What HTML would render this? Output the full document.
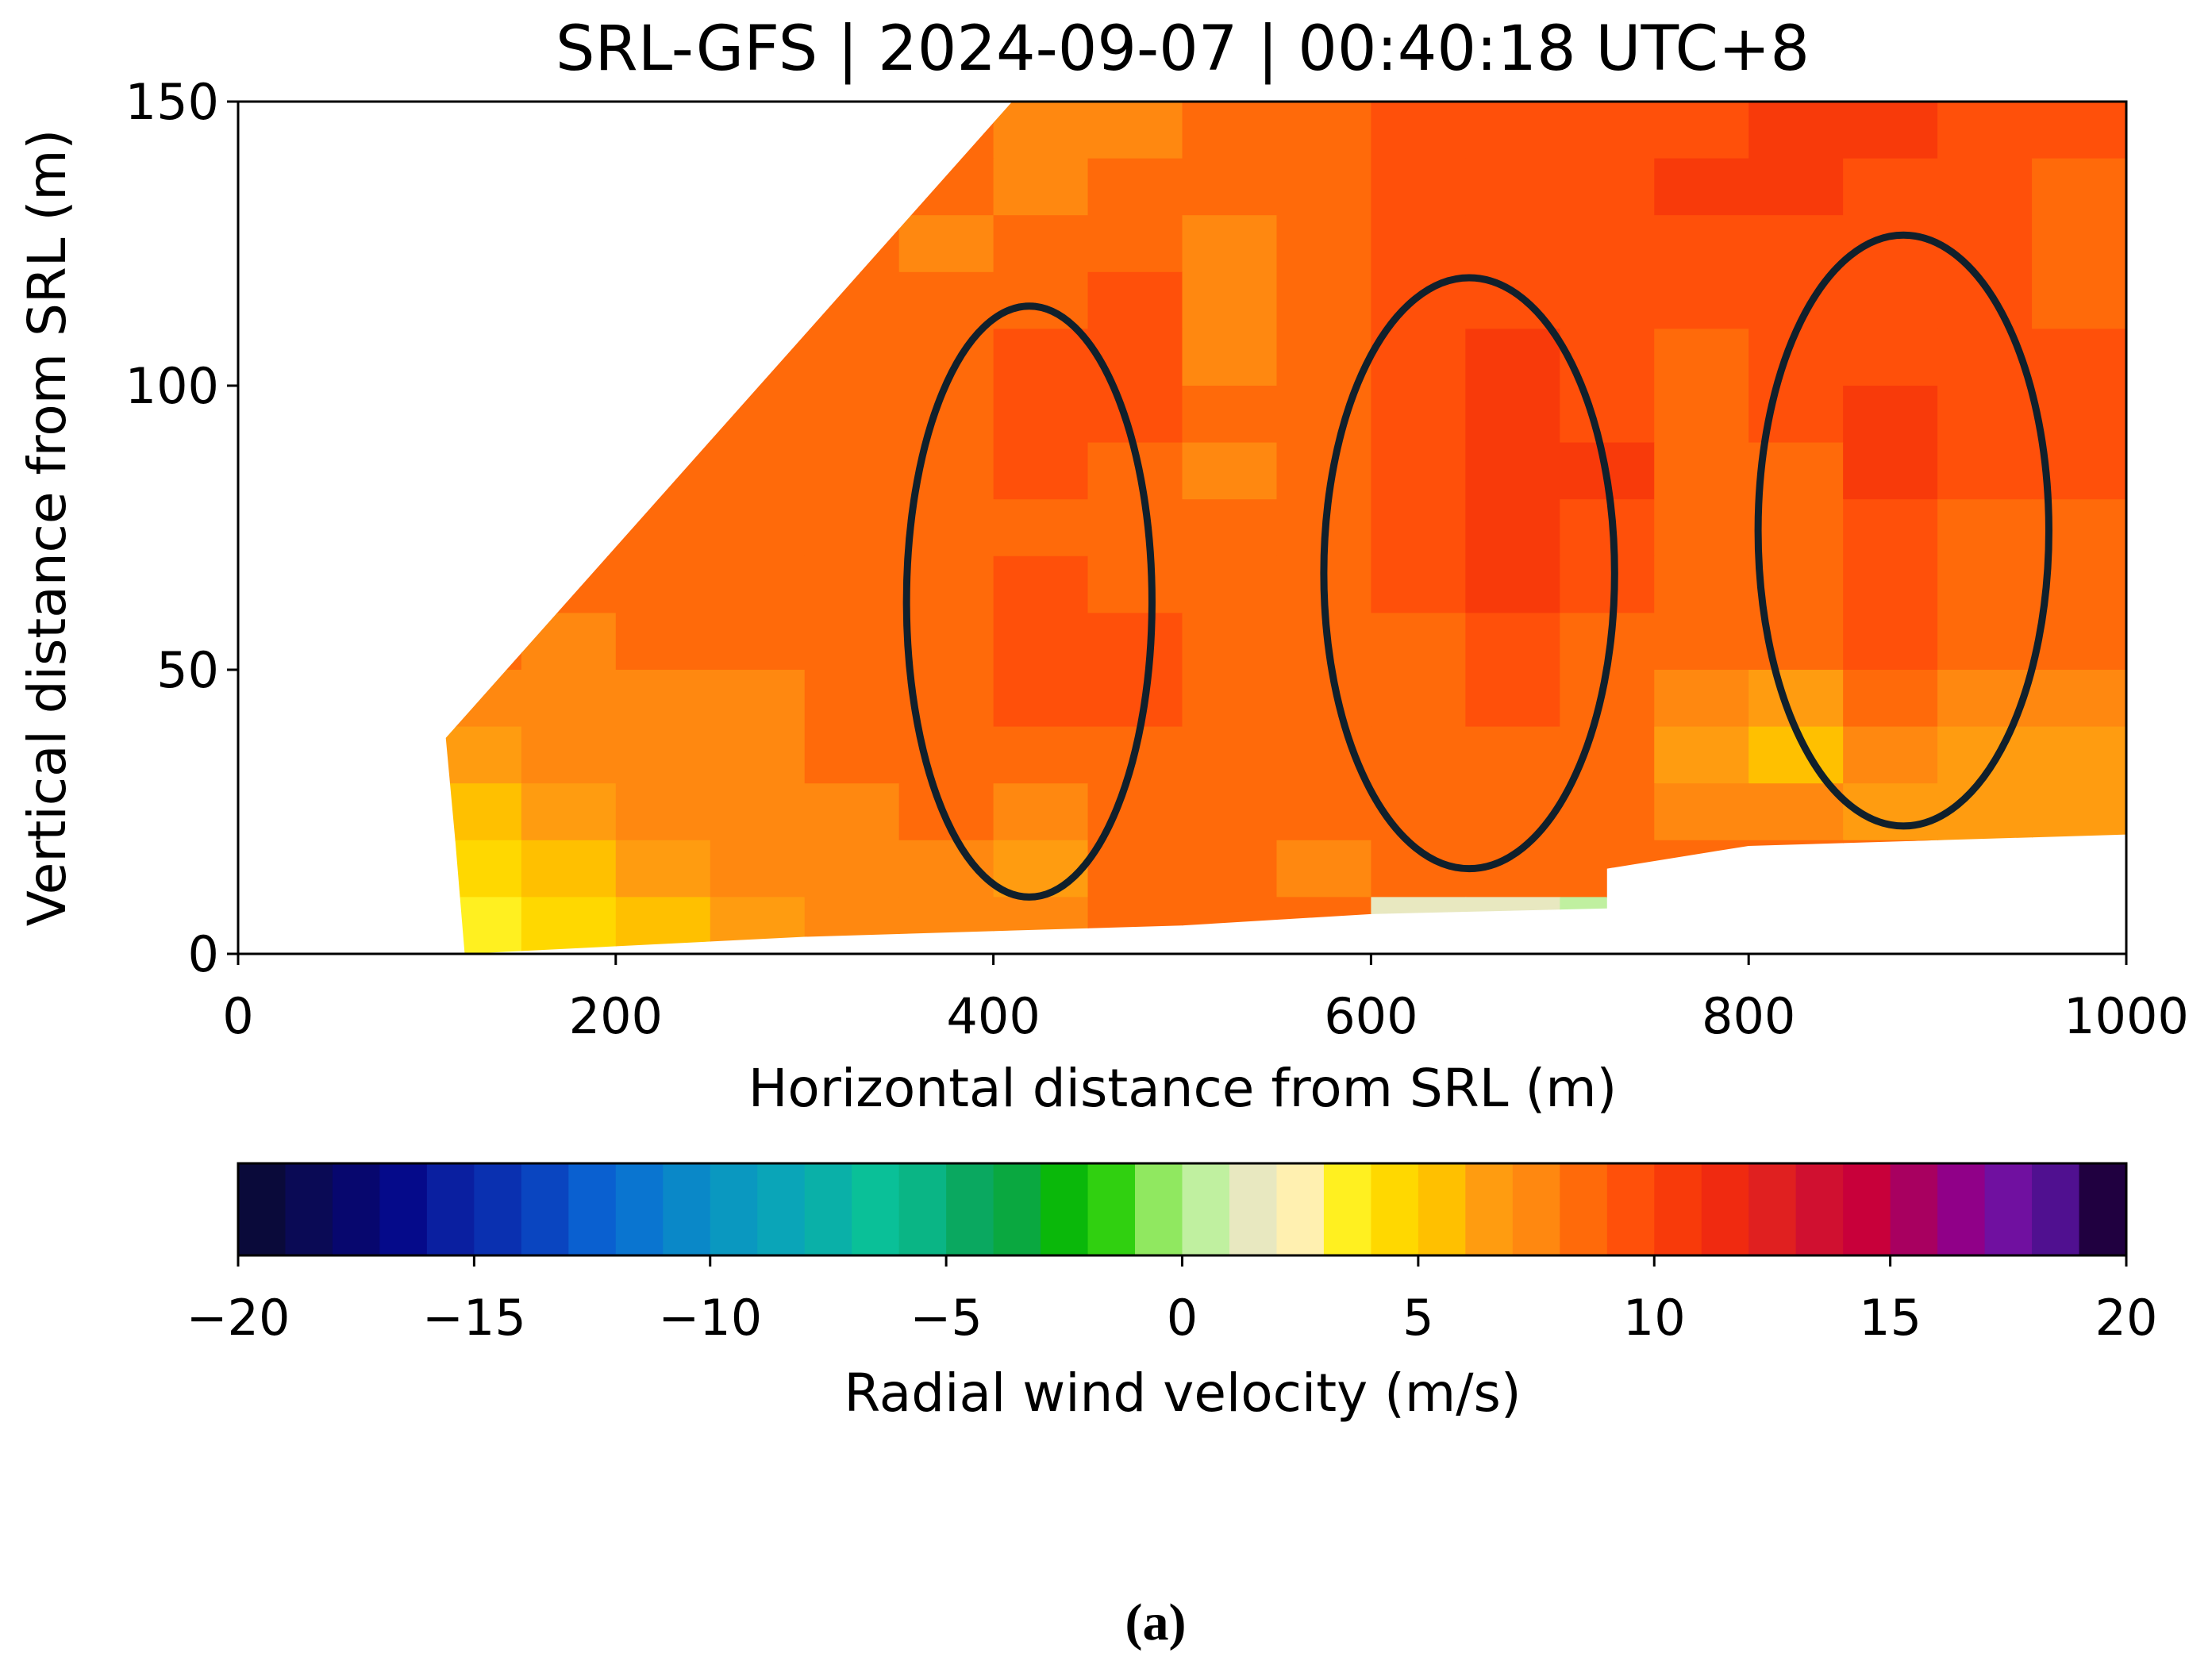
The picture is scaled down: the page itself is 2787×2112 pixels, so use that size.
<!DOCTYPE html>
<html><head><meta charset="utf-8"><style>
html,body{margin:0;padding:0;background:#fff;}
svg{display:block;font-family:"DejaVu Sans","Liberation Sans",sans-serif;}
</style></head><body>
<svg id="chart" width="2787" height="2112" viewBox="0 0 2787 2112" xmlns="http://www.w3.org/2000/svg">
<defs><clipPath id="dataClip"><polygon id="clipPoly" points=""/></clipPath></defs>
<text x="1490" y="88" font-size="78" text-anchor="middle" fill="#000">SRL-GFS | 2024-09-07 | 00:40:18 UTC+8</text>
<g id="heat" clip-path="url(#dataClip)"></g>
<g id="ellipses"></g>
<rect x="300" y="128" width="2379" height="1074" fill="none" stroke="#000" stroke-width="3"/>
<g id="axes"></g>
<text x="1490" y="1394" font-size="66" text-anchor="middle">Horizontal distance from SRL (m)</text>
<text transform="translate(82,665) rotate(-90)" font-size="66" text-anchor="middle">Vertical distance from SRL (m)</text>
<g id="cbar"></g>
<text x="1490" y="1778" font-size="66" text-anchor="middle">Radial wind velocity (m/s)</text>
<text x="1456" y="2066" font-size="66" font-weight="bold" text-anchor="middle" font-family="Liberation Serif, serif">(a)</text>
</svg>
<script>
const xTicks=[0,200,400,600,800,1000];
const yTicks=[0,50,100,150];
const cbTicks=[-20,-15,-10,-5,0,5,10,15,20];
const cbColors=["#0a0a3a","#0a0a55","#07076e","#050a8a","#0a1fa0","#0a30b0","#0a45c0","#0a60d0","#0a75d0","#0a88c8","#0a98c0","#0aa5b8","#0ab0a8","#0ac098","#0ab585","#0aa860","#0aa840","#0ab80a","#30d010","#90e860","#c0f0a0","#e8e8c0","#fff0b0","#fff020","#ffd800","#ffc000","#ff9c10","#ff8810","#ff6a0a","#ff500a","#f83a0a","#f02a10","#e02020","#d01030","#c8003a","#a80060","#900088","#7010a0","#501090","#200040"];
const colStarts=[100,150,200,250,300,350,400,450,500,550,600,650,700,750,800,850,900,950];
const rowStarts=[140,130,120,110,100,90,80,70,60,50,40,30,20,10,0];
const gridValues=[
[8,8,8,8,8,8,7,7,8,8,9,9,9,9,10,10,9,9],
[8,8,8,8,8,8,7,8,8,8,9,9,9,10,10,9,9,8],
[8,8,8,8,8,7,8,8,7,8,9,9,9,9,9,9,9,8],
[8,8,8,8,8,8,8,9,7,8,9,9,9,9,9,9,9,8],
[8,8,8,8,8,8,9,9,7,8,9,10,9,8,9,9,9,9],
[8,8,8,8,8,8,9,9,8,8,9,10,9,8,9,10,9,9],
[8,8,8,8,8,8,9,8,7,8,9,10,10,8,8,10,9,9],
[8,8,8,8,8,8,8,8,8,8,9,10,9,8,8,9,8,8],
[8,8,8,8,8,8,9,8,8,8,9,10,9,8,8,9,8,8],
[8,7,8,8,8,8,9,9,8,8,8,9,8,8,8,9,8,8],
[7,7,7,7,8,8,9,9,8,8,8,9,8,7,6,8,7,7],
[6,7,7,7,8,8,8,8,8,8,8,8,8,6,5,7,6,6],
[5,6,7,7,7,8,7,8,8,8,8,8,8,7,7,6,6,6],
[4,5,6,7,7,7,6,8,8,7,8,8,8,8,8,8,8,8],
[3,4,5,6,7,7,7,8,8,8,1,1,0,8,8,8,8,8]];
const domainX=[110,410,1000,1000,800,725,725,600,500,300,120,115];
const domainY=[38,150,150,21,19,15,8,7,5,3,0,20];
const ellCx=[419,652,882], ellCy=[62,67,74.5], ellRx=[65,77,77], ellRy=[52,52,52];

const NS="http://www.w3.org/2000/svg";
const PL=300,PR=2679,PT=128,PB=1202;
const sx=v=>PL+(v-0)/1000*(PR-PL);
const sy=v=>PB-(v-0)/150*(PB-PT);
const CL=300,CR=2679,CT=1466,CB=1582;
const cx=v=>CL+(v+20)/40*(CR-CL);
function colorFor(v){let i=Math.floor(v+20);i=Math.max(0,Math.min(39,i));return cbColors[i];}
function mk(tag,attrs,parent){const e=document.createElementNS(NS,tag);for(const k in attrs)e.setAttribute(k,attrs[k]);parent.appendChild(e);return e;}

document.getElementById('clipPoly').setAttribute('points',domainX.map((x,i)=>sx(x)+','+sy(domainY[i])).join(' '));
const heat=document.getElementById('heat');
rowStarts.forEach((r,ri)=>colStarts.forEach((c,ci)=>{
  const v=gridValues[ri][ci];
  const el=mk('rect',{x:sx(c),y:sy(r+10),width:sx(c+50)-sx(c)+1,height:sy(r)-sy(r+10)+1,fill:colorFor(v+0.5)},heat);
  
  
}));
const eg=document.getElementById('ellipses');
ellCx.forEach((c,i)=>{
  const el=mk('ellipse',{cx:sx(c),cy:sy(ellCy[i]),rx:sx(ellRx[i])-sx(0),ry:sy(0)-sy(ellRy[i]),fill:'none',stroke:'#10202c','stroke-width':9},eg);
  
  
});
const ax=document.getElementById('axes');
xTicks.forEach(t=>{
  mk('line',{x1:sx(t),x2:sx(t),y1:PB,y2:PB+14,stroke:'#000','stroke-width':3},ax);
  const tx=mk('text',{x:sx(t),y:PB+100,'font-size':62,'text-anchor':'middle'},ax);tx.textContent=t;
  
  
});
yTicks.forEach(t=>{
  mk('line',{x1:PL-14,x2:PL,y1:sy(t),y2:sy(t),stroke:'#000','stroke-width':3},ax);
  const tx=mk('text',{x:PL-24,y:sy(t)+22,'font-size':62,'text-anchor':'end'},ax);tx.textContent=t;
  
  
});
const cb=document.getElementById('cbar');
cbColors.forEach((c,i)=>{
  const el=mk('rect',{x:cx(i-20),y:CT,width:cx(i-19)-cx(i-20)+1,height:CB-CT,fill:c},cb);
  
  
});
mk('rect',{x:CL,y:CT,width:CR-CL,height:CB-CT,fill:'none',stroke:'#000','stroke-width':3},cb);
cbTicks.forEach(t=>{
  mk('line',{x1:cx(t),x2:cx(t),y1:CB,y2:CB+14,stroke:'#000','stroke-width':3},cb);
  const tx=mk('text',{x:cx(t),y:CB+100,'font-size':62,'text-anchor':'middle'},cb);tx.textContent=(t<0?'\u2212'+(-t):t);
  
  
});
</script>
</body></html>
